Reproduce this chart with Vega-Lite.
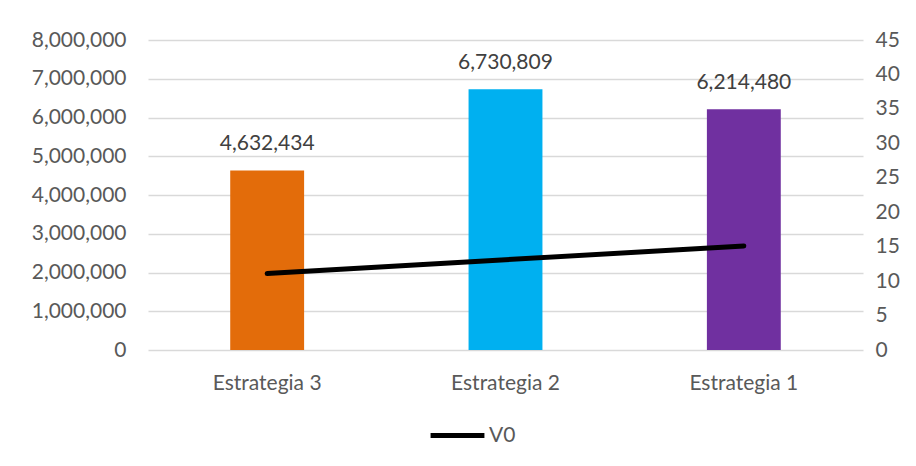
{
  "$schema": "https://vega.github.io/schema/vega-lite/v6.json",
  "width": 715,
  "height": 310,
  "autosize": {"type": "none"},
  "padding": {"left": 148, "top": 40, "right": 53, "bottom": 116},
  "background": "white",
  "config": {
    "view": {"stroke": null},
    "font": "Lato",
    "axis": {"labelFont": "Lato", "labelFontSize": 21, "labelColor": "#595959", "domain": false, "ticks": false, "gridColor": "#d9d9d9", "gridWidth": 1.3},
    "legend": {"labelFont": "Lato", "labelFontSize": 21, "labelColor": "#595959"}
  },
  "data": {
    "values": [
      {"cat": "Estrategia 3", "value": 4632434, "v0": 11.1},
      {"cat": "Estrategia 2", "value": 6730809, "v0": 13.1},
      {"cat": "Estrategia 1", "value": 6214480, "v0": 15.1}
    ]
  },
  "encoding": {
    "x": {"field": "cat", "type": "nominal", "sort": null, "title": null,
          "scale": {"paddingInner": 0, "paddingOuter": 0},
          "axis": {"labelAngle": 0, "labelPadding": 22, "grid": false}}
  },
  "layer": [
    {
      "encoding": {
        "y": {"field": "value", "type": "quantitative", "title": null,
              "scale": {"domain": [0, 8000000]},
              "axis": {"values": [0,1000000,2000000,3000000,4000000,5000000,6000000,7000000,8000000], "format": ",.0f", "formatType": "number", "labelPadding": 22, "grid": true}}
      },
      "layer": [
        {
          "mark": {"type": "bar", "width": {"band": 0.31}},
          "encoding": {
            "color": {"field": "cat", "type": "nominal", "legend": null,
                      "scale": {"domain": ["Estrategia 3", "Estrategia 2", "Estrategia 1"], "range": ["#e36c0a", "#00b0f0", "#7030a0"]}}
          }
        },
        {
          "mark": {"type": "text", "fontSize": 21, "color": "#404040", "baseline": "middle", "dy": -26, "font": "Lato"},
          "encoding": {
            "text": {"field": "value", "type": "quantitative", "format": ",.0f"}
          }
        }
      ]
    },
    {
      "mark": {"type": "line", "strokeWidth": 5, "strokeCap": "round"},
      "encoding": {
        "y": {"field": "v0", "type": "quantitative", "title": null,
              "scale": {"domain": [0, 45]},
              "axis": {"orient": "right", "values": [0,5,10,15,20,25,30,35,40,45], "grid": false, "labelPadding": 12}},
        "color": {"datum": "V0", "type": "nominal",
                  "scale": {"range": ["#000000"]},
                  "legend": {"orient": "none", "legendX": 280, "legendY": 366, "symbolType": "stroke", "symbolSize": 2900, "symbolStrokeWidth": 5, "title": null, "labelOffset": 2}}
      }
    }
  ],
  "resolve": {"scale": {"y": "independent", "color": "independent"}}
}
